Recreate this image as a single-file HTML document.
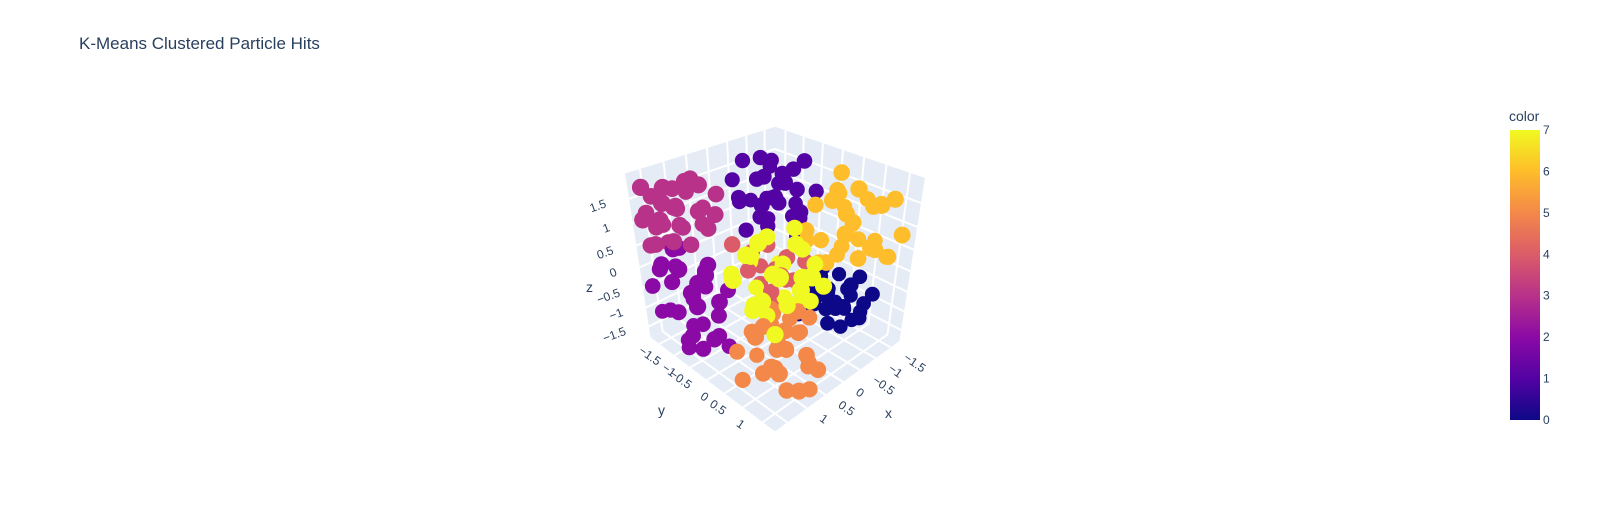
<!DOCTYPE html>
<html><head><meta charset="utf-8"><style>
body{margin:0;background:#fff;width:1619px;height:525px;overflow:hidden;font-family:"Liberation Sans",sans-serif}
svg{position:absolute;left:0;top:0}
</style></head><body>
<svg id="chart" width="1619" height="525">
<text x="79" y="49" font-size="17" fill="#2a3f5f">K-Means Clustered Particle Hits</text>
<g id="scene"></g>
<g id="cbar"></g>
</svg>
<script>
const tickVals=[-1.5,-1,-0.5,0,0.5,1,1.5];
const tickLabels=["−1.5","−1","−0.5","0","0.5","1","1.5"];
const xyTickCount=6;
const cbTicks=[0,1,2,3,4,5,6,7];
const palette=["#0d0887","#5302a3","#8b0aa5","#b83289","#db5c68","#f48849","#febd2a","#f0f921"];
const c0=[[-1.2,0.3,-1.1],[-1.5,0.6,-0.9],[-0.9,0.1,-1.3],[-1.6,0.9,-1.4],[-1.0,0.5,-0.7],[-1.3,-0.1,-1.5],[-0.7,0.4,-1.0],[-1.7,0.2,-0.8],[-1.1,0.8,-1.6],[-1.4,0.0,-0.6],[-0.8,0.7,-1.4],[-1.55,1.0,-1.1],[-1.25,-0.25,-1.2],[-0.95,0.95,-0.9],[-1.65,0.45,-1.6],[-1.05,0.15,-0.55],[-1.35,0.75,-0.75],[-0.75,-0.05,-1.55],[-1.45,0.35,-1.35],[-1.15,0.6,-1.25],[-0.85,0.3,-0.8],[-1.6,-0.2,-1.0],[-1.3,1.1,-1.3],[-1.0,-0.15,-0.95],[-1.75,0.7,-0.65],[-1.2,0.9,-0.5],[-1.5,0.1,-1.25],[-0.9,0.55,-1.15],[-1.7,0.55,-1.2],[-1.1,0.05,-0.75],[-1.4,0.85,-1.55],[-0.8,0.15,-0.65],[-1.6,1.15,-0.8]];
const c1=[[-0.9,-1.0,0.9],[-1.3,-1.4,1.5],[-0.5,-0.7,0.5],[-1.1,-0.5,1.2],[-0.3,-1.3,1.0],[-1.5,-0.9,0.6],[-0.7,-1.6,1.6],[-1.0,-1.2,0.3],[-0.4,-0.4,1.3],[-1.4,-0.6,1.7],[-0.8,-1.5,0.7],[-1.2,-1.1,1.1],[-0.6,-0.9,1.5],[-1.6,-1.3,0.9],[-0.2,-1.0,0.4],[-1.0,-0.3,0.8],[-0.5,-1.7,1.2],[-1.3,-0.8,0.4],[-0.9,-1.3,1.7],[-0.7,-0.6,1.0],[-1.45,-1.6,1.25],[-0.35,-0.75,0.75],[-1.15,-0.45,0.55],[-0.65,-1.15,1.35],[-1.05,-0.85,1.45],[-0.8,-0.2,0.35],[-1.25,-1.5,0.6],[-0.45,-1.45,0.8],[-1.55,-0.4,1.05],[-0.55,-0.3,1.6],[-1.2,-0.7,1.55],[-0.25,-0.6,1.1]];
const c2=[[1.4,-0.8,-0.3],[1.7,-1.2,0.3],[1.1,-0.4,-0.8],[1.6,-0.3,-1.3],[1.2,-1.5,-0.1],[1.75,-0.6,0.5],[0.9,-1.0,-0.5],[1.5,-1.4,-1.0],[1.3,-0.1,-0.2],[1.65,-0.9,-0.7],[1.0,-1.6,0.2],[1.45,-0.5,0.1],[1.2,-1.1,-1.4],[1.7,-1.6,-0.4],[0.85,-0.7,-1.1],[1.55,0.0,-0.9],[1.35,-1.3,0.45],[1.05,-0.2,-1.5],[1.6,-0.75,-1.55],[1.25,-0.95,-0.6],[1.75,-0.15,-0.1],[0.95,-1.35,-0.85],[1.5,-1.7,-1.2],[1.15,-0.55,0.35],[1.4,-1.05,-1.65],[1.7,-0.45,-1.0],[1.0,-0.85,0.0],[1.3,-0.65,-1.05],[1.55,-1.15,-0.15],[0.8,-0.45,-0.35],[1.2,-0.3,-1.2],[1.65,-1.35,0.1],[1.1,-1.2,-0.7],[1.45,-0.25,0.4]];
const c3=[[1.1,-1.4,1.2],[1.6,-1.7,1.7],[0.7,-1.2,0.8],[1.4,-1.0,1.5],[0.9,-1.8,1.0],[1.7,-1.3,0.7],[0.6,-1.6,1.6],[1.3,-1.5,0.5],[1.0,-0.9,1.3],[1.5,-1.8,1.1],[0.8,-1.1,1.7],[1.75,-1.0,1.35],[1.2,-1.75,0.75],[0.55,-1.35,1.05],[1.45,-1.25,1.8],[1.05,-1.55,1.55],[1.65,-1.55,0.55],[0.85,-0.85,0.9],[1.35,-1.8,1.4],[1.25,-1.15,1.0],[0.65,-1.7,1.3],[1.55,-0.95,0.85],[0.95,-1.3,1.75],[1.8,-1.45,1.2],[0.75,-0.75,1.2],[1.15,-1.0,0.6],[0.5,-1.0,1.45],[1.45,-1.6,0.85],[0.9,-1.55,0.65],[1.6,-1.1,1.6]];
const c4=[[0,0,0],[0.3,-0.3,0.4],[-0.3,0.2,-0.3],[0.4,0.3,-0.2],[-0.2,-0.4,0.3],[0.1,0.4,0.5],[-0.4,-0.1,-0.5],[0.5,-0.2,0.1],[0.2,0.1,-0.6],[-0.1,-0.5,-0.2],[0.35,0.5,0.25],[-0.45,0.35,0.15],[0.6,-0.5,0.6],[0.15,-0.25,-0.4]];
const c5=[[0.5,0.8,-1.3],[1.0,1.3,-1.7],[0.1,0.5,-0.9],[0.8,0.3,-1.1],[0.3,1.2,-1.5],[1.2,0.9,-1.4],[0.0,0.9,-0.7],[0.6,1.5,-1.8],[0.9,0.6,-0.6],[0.2,0.3,-1.6],[1.3,1.4,-1.0],[0.4,1.0,-0.8],[0.7,0.2,-1.7],[1.1,1.1,-1.2],[-0.1,0.6,-1.3],[0.55,1.35,-1.05],[0.85,0.75,-1.55],[0.25,0.15,-1.15],[1.35,0.5,-1.75],[0.45,1.55,-1.35],[0.95,0.35,-0.85],[0.15,1.05,-1.8],[0.75,1.0,-0.55],[1.2,0.2,-1.3],[0.35,0.65,-1.45],[1.0,1.6,-1.5],[0.6,0.5,-0.4],[0.2,0.8,-0.5],[0.9,0.95,-0.95],[0.4,0.35,-0.7],[1.1,0.6,-0.75],[0.05,0.2,-0.6]];
const c6=[[-1.1,0.9,1.0],[-1.6,1.4,1.5],[-0.7,0.5,0.6],[-1.4,0.3,1.3],[-0.5,1.2,1.1],[-1.7,1.0,0.4],[-0.9,1.6,1.7],[-1.2,0.6,0.3],[-0.6,0.8,1.6],[-1.5,1.7,0.9],[-0.8,1.3,0.5],[-1.3,0.4,1.8],[-1.0,1.5,0.7],[-1.75,0.7,1.2],[-0.45,0.35,0.85],[-1.25,1.2,1.4],[-0.85,0.2,1.2],[-1.55,0.55,0.65],[-0.65,1.65,0.95],[-1.05,1.0,1.75],[-1.45,1.5,0.35],[-0.75,1.0,1.35],[-1.65,0.25,0.9],[-0.95,0.7,0.25],[-0.55,0.6,0.2],[-1.3,0.9,0.55],[-0.7,0.15,0.45],[-1.15,0.45,1.5],[-1.7,1.3,0.15],[-0.4,0.9,0.4]];
const c7=[[0.5,0.6,0.3],[0.9,0.2,0.8],[0.1,1.0,-0.2],[1.2,0.7,0.1],[0.3,0.1,0.9],[0.7,1.3,0.5],[-0.2,0.5,0.6],[1.0,1.0,-0.5],[0.4,-0.1,-0.3],[0.8,0.4,1.1],[0.0,1.2,0.2],[1.3,0.3,0.5],[0.6,0.9,-0.1],[0.2,0.4,0.4],[1.1,1.2,0.9],[-0.1,0.0,0.1],[0.55,1.4,0.75],[0.95,-0.15,0.25],[0.25,0.75,1.0],[0.75,0.55,-0.45],[1.25,0.95,0.35],[0.05,0.3,-0.5],[0.45,1.1,0.55],[0.85,0.8,0.65],[-0.3,0.2,0.9],[0.65,0.05,0.6],[1.05,0.5,-0.2],[0.15,0.7,-0.4],[-0.15,0.85,0.45],[0.35,-0.3,0.2]];
const clusters=[c0,c1,c2,c3,c4,c5,c6,c7];

const NS="http://www.w3.org/2000/svg";
const XR=[-1.8,1.8],YR=[-1.8,1.8],ZR=[-1.8,2.0];
const CX=775,CY=265,A=68,BX=34,BY=36,CZ=81,K=0.278;
function nrm(v,r){return 2*(v-r[0])/(r[1]-r[0])-1;}
function proj(x,y,z){const ux=nrm(x,XR),uy=nrm(y,YR),uz=nrm(z,ZR);const d=(ux+uy+uz)/3;const s=1/(1-K*d);
return {x:CX+s*A*(uy-ux),y:CY+s*(BX*ux+BY*uy-CZ*uz),s:s,d:d};}
function mk(t,at,p){const e=document.createElementNS(NS,t);for(const k in at)e.setAttribute(k,at[k]);(p||scene).appendChild(e);return e;}
const scene=document.getElementById('scene');
function poly(pts,name){const e=mk('polygon',{points:pts.map(p=>p.x+','+p.y).join(' '),fill:'#e5ecf6'});

}
function line(a,b,name){const e=mk('line',{x1:a.x,y1:a.y,x2:b.x,y2:b.y,stroke:'#fff','stroke-width':2});

}
poly([proj(XR[0],YR[0],ZR[0]),proj(XR[1],YR[0],ZR[0]),proj(XR[1],YR[0],ZR[1]),proj(XR[0],YR[0],ZR[1])],'y-wall');
poly([proj(XR[0],YR[0],ZR[0]),proj(XR[0],YR[1],ZR[0]),proj(XR[0],YR[1],ZR[1]),proj(XR[0],YR[0],ZR[1])],'x-wall');
poly([proj(XR[0],YR[0],ZR[0]),proj(XR[1],YR[0],ZR[0]),proj(XR[1],YR[1],ZR[0]),proj(XR[0],YR[1],ZR[0])],'floor');
tickVals.forEach(t=>{
 line(proj(t,YR[0],ZR[0]),proj(t,YR[0],ZR[1]),'grid-x');
 line(proj(t,YR[0],ZR[0]),proj(t,YR[1],ZR[0]),'grid-x');
 line(proj(XR[0],t,ZR[0]),proj(XR[0],t,ZR[1]),'grid-y');
 line(proj(XR[0],t,ZR[0]),proj(XR[1],t,ZR[0]),'grid-y');
 line(proj(XR[0],YR[0],t),proj(XR[1],YR[0],t),'grid-z');
 line(proj(XR[0],YR[0],t),proj(XR[0],YR[1],t),'grid-z');
});
tickVals.forEach((t,i)=>{
 let p=proj(XR[1],YR[0],t);
 let e=mk('text',{x:p.x-22,y:p.y+8,'font-size':12,fill:'#2a3f5f','text-anchor':'end',transform:`rotate(-20 ${p.x-22} ${p.y+8})`});
 e.textContent=tickLabels[i];
 
 
 if(i>=xyTickCount) return;
 p=proj(XR[1],t,ZR[0]);
 e=mk('text',{x:p.x-2,y:p.y+22,'font-size':12,fill:'#2a3f5f','text-anchor':'end',transform:`rotate(35 ${p.x-2} ${p.y+22})`});
 e.textContent=tickLabels[i];
 
 
 p=proj(t,YR[1],ZR[0]);
 e=mk('text',{x:p.x+12,y:p.y+12,'font-size':12,fill:'#2a3f5f','text-anchor':'start',transform:`rotate(35 ${p.x+12} ${p.y+12})`});
 e.textContent=tickLabels[i];
 
 
});
[['z',586,292],['y',658,415],['x',885,418]].forEach(a=>{const e=mk('text',{x:a[1],y:a[2],'font-size':14,fill:'#2a3f5f'});e.textContent=a[0];
 
 });
const pts=[];
clusters.forEach((c,ci)=>c.forEach(v=>{const p=proj(v[0],v[1],v[2]);pts.push({p:p,c:ci});}));
pts.sort((a,b)=>a.p.d-b.p.d);
pts.forEach(o=>{const e=mk('circle',{cx:o.p.x,cy:o.p.y,r:8*o.p.s,fill:palette[o.c]});
 
 });
const cb=document.getElementById('cbar');
const defs=mk('defs',{},cb);
const g=mk('linearGradient',{id:'pl',x1:0,y1:1,x2:0,y2:0},defs);
palette.forEach((col,i)=>mk('stop',{offset:i/7,'stop-color':col},g));
const rct=mk('rect',{x:1510,y:130,width:30,height:290,fill:'url(#pl)'},cb);


const ct=mk('text',{x:1509,y:121,'font-size':14,fill:'#2a3f5f'},cb);ct.textContent='color';


cbTicks.forEach(t=>{const y=420-t/7*290;const e=mk('text',{x:1543,y:y+4,'font-size':12,fill:'#2a3f5f'},cb);e.textContent=t;
 
 });
</script>
</body></html>
